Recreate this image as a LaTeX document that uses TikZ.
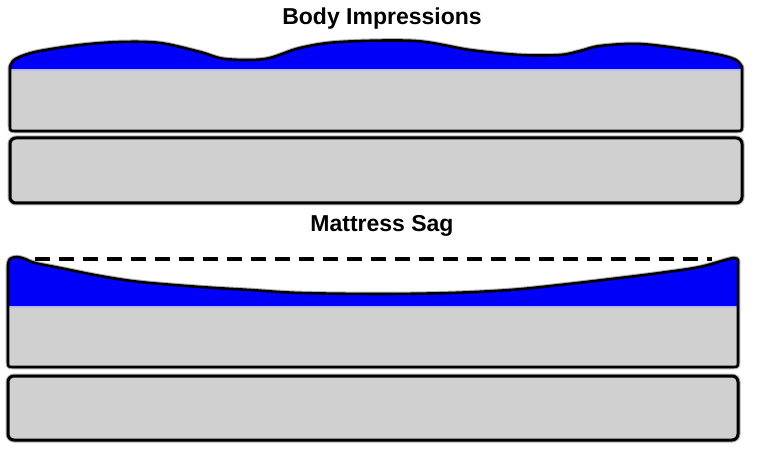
\documentclass[tikz,border=0pt]{standalone}
\usepackage{fontspec}
\setmainfont{Liberation Sans}
\definecolor{mblue}{RGB}{0,0,250}
\definecolor{mgrey}{RGB}{208,208,208}
\definecolor{mband}{RGB}{185,185,245}
\newcommand\mtop[1]{\path[#1] plot[smooth,tension=0.55] coordinates {(10,67) (13,61) (22,56) (40,51) (80,45) (120,42) (160,43) (200,52) (225,59) (265,59) (300,48) (340,42) (415,41) (470,50) (520,55) (560,55) (580,51) (600,46) (640,44) (690,50) (720,55) (736,60) (742,67)} -- (742,125) .. controls (742,131) .. (736,131) -- (16,131) .. controls (10,131) .. (10,125) -- cycle;}
\newcommand\msag[1]{\path[#1] plot[smooth,tension=0.55] coordinates {(8,265) (10,259) (17,257) (25,259) (35,263) (60,268) (100,276) (140,282) (200,287) (250,290) (300,293) (380,294) (450,293) (510,290) (560,285) (620,278) (660,273) (700,267) (734,258) (738,264)} -- (738,361) .. controls (738,367) .. (732,367) -- (14,367) .. controls (8,367) .. (8,361) -- cycle;}
\begin{document}
\begin{tikzpicture}[x=1bp,y=-1bp,
  outline/.style={draw=black,line width=2.6bp,line join=round},
  halo/.style={draw=black!30,line width=4.6bp,line join=round},
  box/.style={fill=mgrey,draw=black,line width=3bp,rounded corners=6bp},
  boxhalo/.style={draw=black!30,line width=5bp,rounded corners=6bp},
  band/.style={draw=mband,line width=2bp},
  dashline/.style={draw=black,line width=4bp,dash pattern=on 15bp off 9bp},
  title/.style={font=\fontsize{23bp}{27bp}\selectfont\bfseries,anchor=base,inner sep=0pt}]
\useasboundingbox (0,0) rectangle (757,450);
\fill[white] (0,0) rectangle (757,450);

% titles
\node[title] (t1) at (382,25) {Body Impressions};
\node[title] (t2) at (382,232) {Mattress Sag};

% top mattress with body impressions
\mtop{halo}
\mtop{fill=mgrey}
\begin{scope}
  \mtop{clip}
  \fill[mblue] (0,0) rectangle (757,69);
  \path[band] (0,70) -- (757,70);
\end{scope}
\mtop{outline}
\path[boxhalo] (10,138) rectangle (742,203);
\path[box] (10,138) rectangle (742,203);

% sagging mattress
\msag{halo}
\msag{fill=mgrey}
\begin{scope}
  \msag{clip}
  \fill[mblue] (0,200) rectangle (757,306);
  \path[band] (0,307) -- (757,307);
\end{scope}
\msag{outline}
\path[boxhalo] (8,376) rectangle (738,440);
\path[box] (8,376) rectangle (738,440);

% reference level
\coordinate (d1) at (35,259);
\coordinate (d2) at (712,259);
\path[dashline] (d1) -- (d2);
\end{tikzpicture}
\end{document}
